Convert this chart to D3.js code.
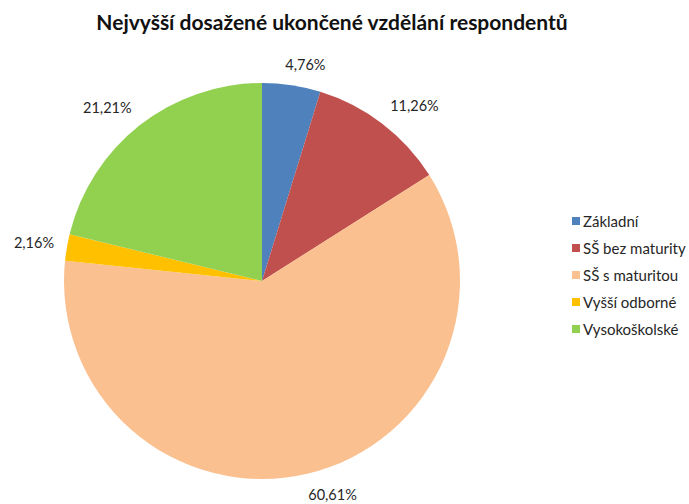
<!DOCTYPE html>
<html><head><meta charset="utf-8">
<script src="https://cdn.jsdelivr.net/npm/d3@7"></script>
<style>
html,body{margin:0;padding:0;background:#fff;}
svg{display:block;font-family:Lato,"Open Sans",sans-serif;}
</style></head>
<body>
<svg id="chart" width="689" height="504"></svg>
<script>
const title = "Nejvyšší dosažené ukončené vzdělání respondentů";
const categories = ["Základní", "SŠ bez maturity", "SŠ s maturitou", "Vyšší odborné", "Vysokoškolské"];
const values = [4.76, 11.26, 60.61, 2.16, 21.21];
const labels = ["4,76%", "11,26%", "60,61%", "2,16%", "21,21%"];
const colors = ["#4F81BD", "#C0504D", "#FAC090", "#FFC000", "#92D050"];

const svg = d3.select("#chart");
const cx = 262, cy = 281, r = 198;

svg.append("text")
  .attr("x", 332).attr("y", 30)
  .attr("text-anchor", "middle")
  .attr("font-weight", "bold")
  .attr("font-size", 21)
  .attr("fill", "#111")
  .text(title);

const data = categories.map((c, i) => ({cat: c, value: values[i], label: labels[i], color: colors[i]}));
const pie = d3.pie().value(d => d.value).sort(null);
const arcs = pie(data);
const arc = d3.arc().innerRadius(0).outerRadius(r);

const g = svg.append("g").attr("transform", `translate(${cx},${cy})`);
g.selectAll("path").data(arcs).join("path")
  .attr("d", arc)
  .attr("fill", d => d.data.color);

const clamp = (v) => Math.max(-1, Math.min(1, v));
const lbls = g.selectAll("text.lbl").data(arcs).join("text")
  .attr("class", "lbl")
  .attr("font-size", 14.5)
  .attr("fill", "#262626")
  .attr("text-anchor", "middle")
  .attr("dominant-baseline", "central")
  .text(d => d.data.label);
lbls.each(function(d) {
  const a = (d.startAngle + d.endAngle) / 2;
  const s = Math.sin(a), c = -Math.cos(a);
  const R = r + 13;
  const w = this.getComputedTextLength(), h = 16;
  const x = R * s + clamp(s * 4) * w / 2;
  const y = R * c + clamp(c * 2) * h / 2;
  d3.select(this).attr("x", x).attr("y", y);
});

const legend = svg.append("g").attr("transform", "translate(572,221)");
const items = legend.selectAll("g").data(data).join("g")
  .attr("transform", (d, i) => `translate(0,${i * 27})`);
items.append("rect").attr("x", 0).attr("y", -4).attr("width", 8).attr("height", 8)
  .attr("fill", d => d.color);
items.append("text").attr("x", 11).attr("y", 0)
  .attr("dominant-baseline", "central")
  .attr("font-size", 15)
  .attr("fill", "#262626")
  .text(d => d.cat);
</script>
</body></html>
